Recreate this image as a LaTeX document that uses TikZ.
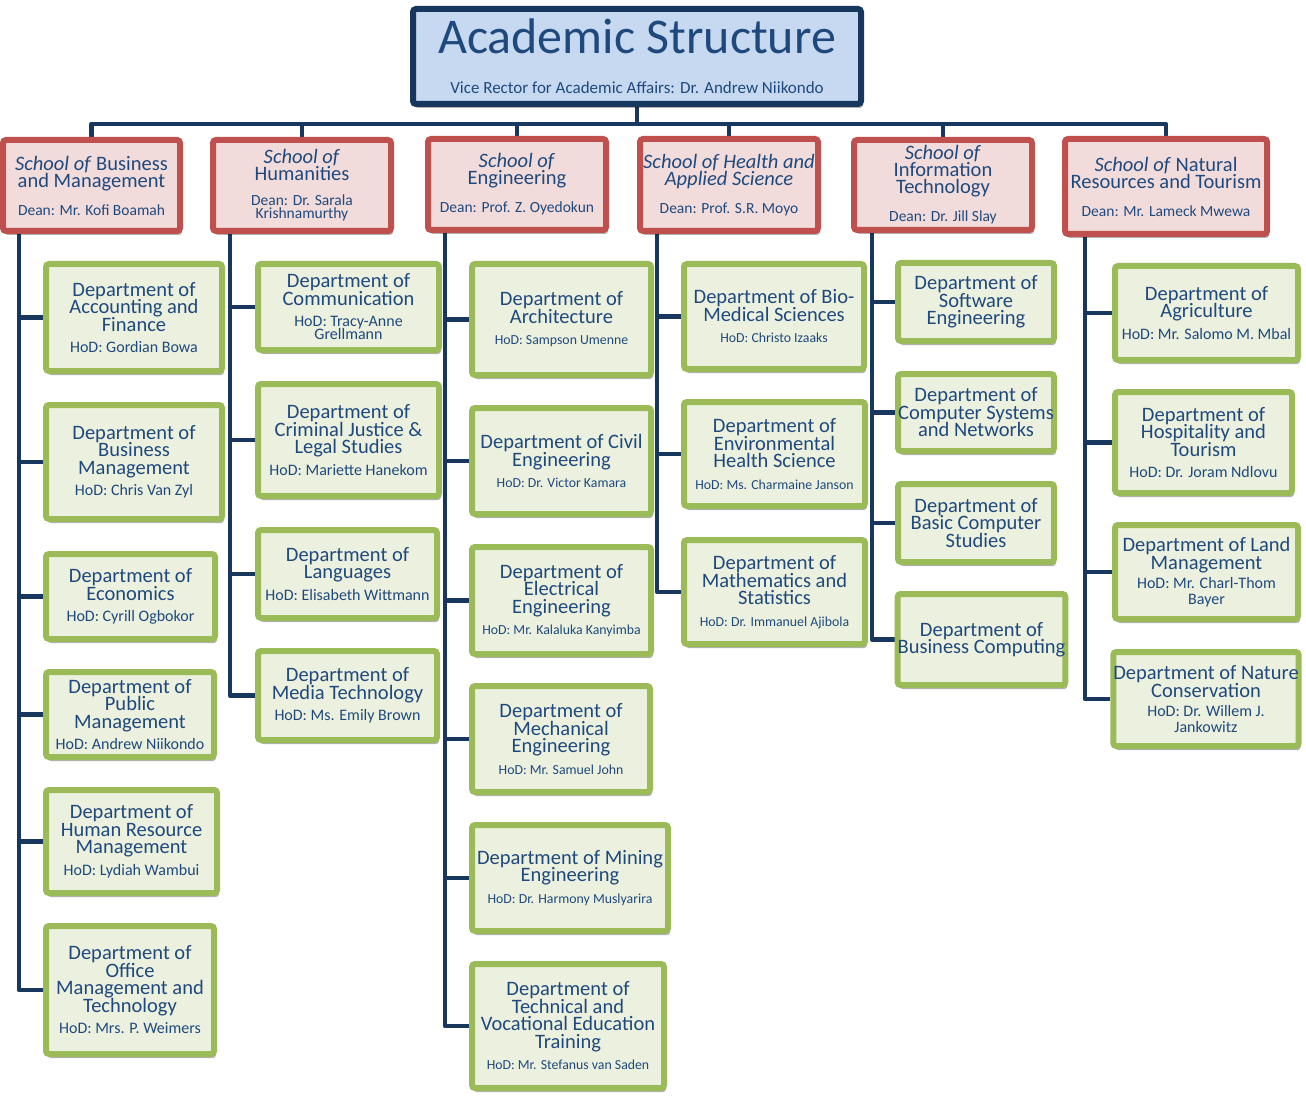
\documentclass[tikz,border=0pt]{standalone}
\usepackage{fontspec}
\setmainfont{Carlito}
\usetikzlibrary{shadows,backgrounds}
\definecolor{txt}{HTML}{1F497D}
\definecolor{lnc}{HTML}{17375E}
\definecolor{gbd}{HTML}{9BBB59}
\definecolor{gfl}{HTML}{EBF1DE}
\definecolor{rbd}{HTML}{C0504D}
\definecolor{rfl}{HTML}{F2DCDB}
\definecolor{bfl}{HTML}{C6D9F1}
\newcommand\tf{\fontsize{20.5}{17.5}\selectfont\lineskiplimit=-50pt\relax}
\newcommand\hf{\fontsize{16}{13}\selectfont\lineskiplimit=-50pt\relax}
\newcommand\hfs{\fontsize{13.8}{12.5}\selectfont\lineskiplimit=-50pt\relax}
\newcommand\stf{\fontsize{20.5}{17}\selectfont\lineskiplimit=-50pt\relax}
\newcommand\dtf{\fontsize{15.5}{13}\selectfont\lineskiplimit=-50pt\relax}
\tikzset{
 box/.style={rectangle, rounded corners=3pt, line width=6pt, inner sep=0pt, align=center, text=txt,
   drop shadow={shadow xshift=2pt, shadow yshift=-4pt, opacity=0.3, fill=black}},
 dept/.style={box, draw=gbd, fill=gfl, font=\tf},
 school/.style={box, draw=rbd, fill=rfl, font=\stf},
 vrbox/.style={box, draw=lnc, fill=bfl, font=\fontsize{17}{17}\selectfont},
 conn/.style={draw=lnc, line width=4.5pt, line join=round}
}
% style, name, x1, y1, x2, y2, text
\newcommand\bx[7]{\node[#1, minimum width={#5-#3-6}, minimum height={#6-#4-6}] (#2) at ({(#3+#5)/2},{(#4+#6)/2}) {#7};}
\begin{document}
\begin{tikzpicture}[x=1pt,y=-1pt]
\useasboundingbox (0,0) rectangle (1306,1099);
% title
\bx{vrbox}{vr}{410}{6}{864}{107}{\fontsize{50}{50}\selectfont Academic Structure\\[23pt]Vice Rector for Academic Affairs: Dr. Andrew Niikondo}
% schools
\bx{school}{sbus}{0}{137}{183}{234}{\textit{School of} Business\\and Management\\[11pt]\dtf Dean: Mr. Kofi Boamah}
\bx{school}{shum}{210}{137}{394}{234}{\textit{School of}\\Humanities\\[8pt]\dtf Dean: Dr. Sarala\\[-4pt]\dtf Krishnamurthy}
\bx{school}{seng}{425}{136}{609}{233}{\textit{School of}\\Engineering\\[11pt]\dtf Dean: Prof. Z. Oyedokun}
\bx{school}{shea}{637}{136}{821}{234}{\textit{School of Health and}\\\textit{Applied Science}\\[11pt]\dtf Dean: Prof. S.R. Moyo}
\bx{school}{sit}{851}{137}{1035}{233}{\textit{School of}\\Information\\Technology\\[11pt]\dtf Dean: Dr. Jill Slay}
\bx{school}{snat}{1062}{136}{1270}{237}{\textit{School of} Natural\\Resources and Tourism\\[11pt]\dtf Dean: Mr. Lameck Mwewa}
% Business departments
\bx{dept}{acc}{43}{261}{225}{374}{Department of\\Accounting and\\Finance\\[4pt]\hf HoD: Gordian Bowa}
\bx{dept}{bm}{43}{402}{225}{522}{Department of\\Business\\Management\\[4pt]\hf HoD: Chris Van Zyl}
\bx{dept}{eco}{43}{551}{218}{642}{Department of\\Economics\\[4pt]\hf HoD: Cyrill Ogbokor}
\bx{dept}{pub}{43}{669}{217}{760}{Department of\\Public\\Management\\[4pt]\hf HoD: Andrew Niikondo}
\bx{dept}{hr}{43}{787}{220}{896}{Department of\\Human Resource\\Management\\[4pt]\hf HoD: Lydiah Wambui}
\bx{dept}{off}{43}{923}{217}{1057}{Department of\\Office\\Management and\\Technology\\[4pt]\hf HoD: Mrs. P. Weimers}
% Humanities departments
\bx{dept}{com}{255}{261}{442}{353}{Department of\\Communication\\[4pt]\hf HoD: Tracy-Anne\\[-4.5pt]\hf Grellmann}
\bx{dept}{crim}{255}{381}{442}{499}{Department of\\Criminal Justice \&\\Legal Studies\\[4pt]\hf HoD: Mariette Hanekom}
\bx{dept}{lang}{255}{527}{440}{621}{Department of\\Languages\\[4pt]\hf HoD: Elisabeth Wittmann}
\bx{dept}{media}{255}{648}{440}{743}{Department of\\Media Technology\\[4pt]\hf HoD: Ms. Emily Brown}
% Engineering departments
\bx{dept}{arch}{469}{261}{654}{378}{Department of\\Architecture\\[4pt]\hfs HoD: Sampson Umenne}
\bx{dept}{civ}{469}{405}{654}{517}{Department of Civil\\Engineering\\[4pt]\hfs HoD: Dr. Victor Kamara}
\bx{dept}{elec}{469}{544}{654}{657}{Department of\\Electrical\\Engineering\\[4pt]\hfs HoD: Mr. Kalaluka Kanyimba}
\bx{dept}{mech}{469}{683}{653}{795}{Department of\\Mechanical\\Engineering\\[4pt]\hfs HoD: Mr. Samuel John}
\bx{dept}{mine}{469}{822}{671}{934}{Department of Mining\\Engineering\\[4pt]\hfs HoD: Dr. Harmony Muslyarira}
\bx{dept}{tech}{469}{961}{667}{1091}{Department of\\Technical and\\Vocational Education\\Training\\[4pt]\hfs HoD: Mr. Stefanus van Saden}
% Health departments
\bx{dept}{bio}{681}{261}{867}{372}{Department of Bio-\\Medical Sciences\\[4pt]\hfs HoD: Christo Izaaks}
\bx{dept}{env}{681}{399}{868}{509}{Department of\\Environmental\\Health Science\\[4pt]\hfs HoD: Ms. Charmaine Janson}
\bx{dept}{math}{681}{537}{868}{647}{Department of\\Mathematics and\\Statistics\\[4pt]\hfs HoD: Dr. Immanuel Ajibola}
% IT departments
\bx{dept}{soft}{895}{260}{1057}{344}{Department of\\Software\\Engineering}
\bx{dept}{css}{895}{371}{1057}{454}{Department of\\Computer Systems\\and Networks}
\bx{dept}{bcs}{895}{481}{1057}{565}{Department of\\Basic Computer\\Studies}
\bx{dept}{bc}{895}{591}{1068}{688}{Department of\\Business Computing}
% Natural resources departments
\bx{dept}{agri}{1112}{263}{1301}{363}{Department of\\Agriculture\\[4pt]\hf HoD: Mr. Salomo M. Mbal}
\bx{dept}{hosp}{1112}{389}{1295}{496}{Department of\\Hospitality and\\Tourism\\[4pt]\hf HoD: Dr. Joram Ndlovu}
\bx{dept}{land}{1112}{522}{1301}{622}{Department of Land\\Management\\[2pt]\hf HoD: Mr. Charl-Thom\\[-2pt]\hf Bayer}
\bx{dept}{nat}{1112}{649}{1300}{749}{Department of Nature\\Conservation\\[2pt]\hf HoD: Dr. Willem J.\\[-2pt]\hf Jankowitz}
% connectors
\coordinate (bus) at (637,124);
\coordinate (tA) at (19,0);
\coordinate (tB) at (230,0);
\coordinate (tC) at (445,0);
\coordinate (tD) at (657,0);
\coordinate (tE) at (872,0);
\coordinate (tF) at (1085,0);
\begin{pgfonlayer}{background}
\draw[conn] (vr.south) -- (bus);
\draw[conn] (sbus.north) |- (bus) -| (snat.north);
\foreach \s in {shum,seng,shea,sit} \draw[conn] (\s.north) -- (\s.north |- bus);
\foreach \d in {acc,bm,eco,pub,hr,off} \draw[conn] (tA |- sbus.south) |- (\d.west);
\foreach \d in {com,crim,lang,media} \draw[conn] (tB |- shum.south) |- (\d.west);
\foreach \d in {arch,civ,elec,mech,mine,tech} \draw[conn] (tC |- seng.south) |- (\d.west);
\foreach \d in {bio,env,math} \draw[conn] (tD |- shea.south) |- (\d.west);
\foreach \d in {soft,css,bcs,bc} \draw[conn] (tE |- sit.south) |- (\d.west);
\foreach \d in {agri,hosp,land,nat} \draw[conn] (tF |- snat.south) |- (\d.west);
\end{pgfonlayer}
\end{tikzpicture}
\end{document}
